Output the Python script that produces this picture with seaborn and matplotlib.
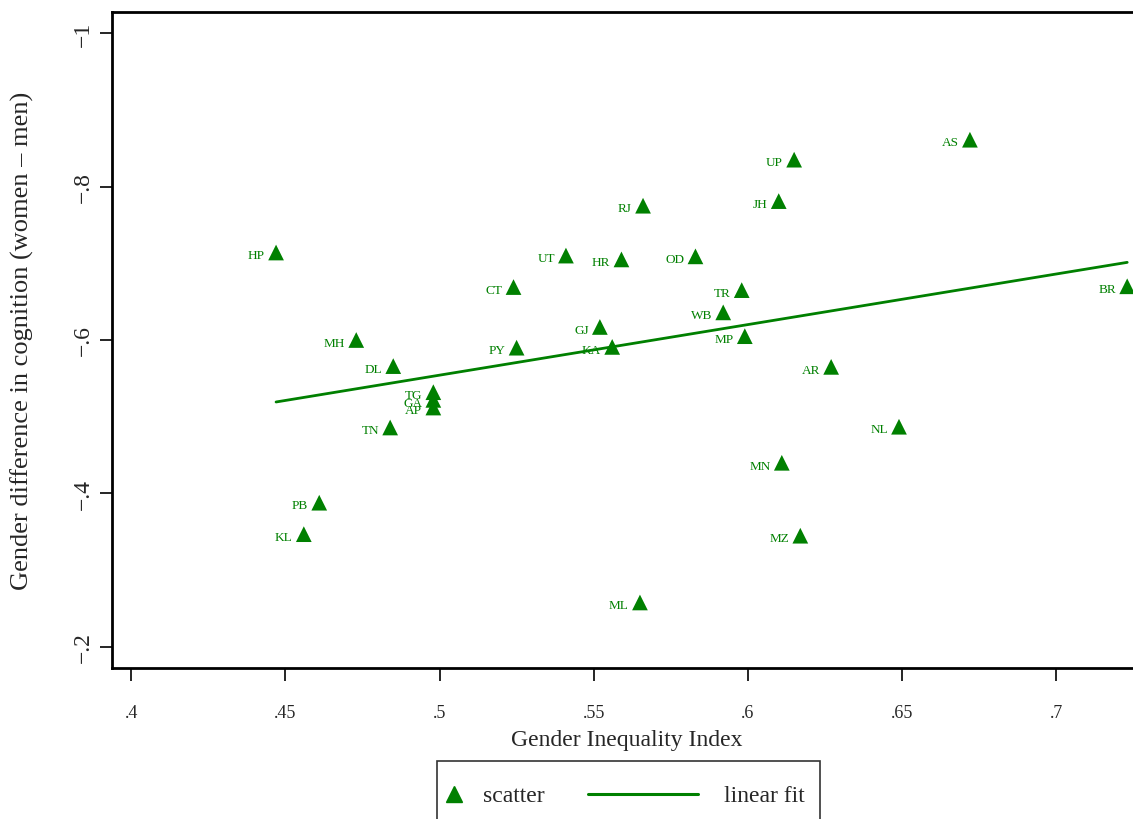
import numpy as np
import pandas as pd
import matplotlib
matplotlib.use("Agg")
import matplotlib.pyplot as plt
import seaborn as sns
from matplotlib.lines import Line2D
from matplotlib.legend_handler import HandlerBase

# state codes, Gender Inequality Index, gender gap in cognition
states = ["HP", "AS", "UP", "RJ", "JH", "UT", "HR", "OD", "CT", "TR",
          "BR", "GJ", "WB", "MP", "MH", "PY", "KA", "DL", "AR", "TG",
          "GA", "AP", "TN", "NL", "MN", "PB", "KL", "MZ", "ML"]
gii = [0.447, 0.672, 0.615, 0.566, 0.610, 0.541, 0.559, 0.583, 0.524, 0.598,
       0.723, 0.552, 0.592, 0.599, 0.473, 0.525, 0.556, 0.485, 0.627, 0.498,
       0.498, 0.498, 0.484, 0.649, 0.611, 0.461, 0.456, 0.617, 0.565]
gap = [-0.714, -0.861, -0.835, -0.775, -0.781, -0.710, -0.705, -0.709, -0.669, -0.665,
       -0.670, -0.617, -0.636, -0.605, -0.600, -0.590, -0.591, -0.566, -0.565, -0.532,
       -0.522, -0.512, -0.486, -0.487, -0.440, -0.388, -0.347, -0.345, -0.258]

x_ticks = [0.4, 0.45, 0.5, 0.55, 0.6, 0.65, 0.7]
x_tick_labels = [".4", ".45", ".5", ".55", ".6", ".65", ".7"]
y_ticks = [-1.0, -0.8, -0.6, -0.4, -0.2]
y_tick_labels = ["\u22121", "\u2212.8", "\u2212.6", "\u2212.4", "\u2212.2"]

df = pd.DataFrame({"state": states, "gii": gii, "gap": gap})

sns.set_style("white")
plt.rcParams["font.family"] = ["Liberation Serif", "DejaVu Serif"]

green = "#008000"


# Stata-like legend keys: marker sits at the left of its slot,
# the fit line reaches back into the column gap
class KeyHandler(HandlerBase):
    def __init__(self, kind):
        super().__init__()
        self.kind = kind

    def create_artists(self, legend, orig_handle, xdescent, ydescent,
                       width, height, fontsize, trans):
        y = height / 2 - ydescent
        if self.kind == "marker":
            art = Line2D([-xdescent + 1], [y], marker="^", markersize=11.5,
                         color=green, linestyle="none")
        else:
            art = Line2D([-xdescent - 76, -xdescent + 3.5], [y, y],
                         color=green, linewidth=2.2)
        art.set_transform(trans)
        return [art]


fig = plt.figure(figsize=(11.33, 8.2), dpi=100)
ax = fig.add_axes([112 / 1133, 151 / 820, 1030 / 1133, 656 / 820])

# scatter + labels
sns.scatterplot(data=df, x="gii", y="gap", marker="^", s=128, color=green,
                edgecolor="none", ax=ax, zorder=3)
for _, r in df.iterrows():
    ax.annotate(r["state"], (r["gii"], r["gap"]), xytext=(-8, -2),
                textcoords="offset points", ha="right", va="center",
                fontsize=9.5, color=green)

# linear fit
sns.regplot(data=df, x="gii", y="gap", scatter=False, ci=None, truncate=True,
            color=green, line_kws={"linewidth": 2}, ax=ax)

ax.set_xlim(0.3938, 0.7278)
ax.set_ylim(-0.1726, -1.0274)
ax.set_xticks(x_ticks)
ax.set_xticklabels(x_tick_labels, fontsize=13)
ax.set_yticks(y_ticks)
ax.set_yticklabels(y_tick_labels, fontsize=17, rotation=90, va="center")
ax.tick_params(axis="both", direction="out", length=9, width=1.2,
               color="black", bottom=True, left=True)
ax.tick_params(axis="x", pad=17)
ax.tick_params(axis="y", pad=4)

ax.set_xlabel("Gender Inequality Index", fontsize=17, labelpad=6)
ax.set_ylabel("Gender difference in cognition (women \u2013 men)", fontsize=19,
              labelpad=28)

for side in ["left", "bottom", "top"]:
    ax.spines[side].set_linewidth(2)
    ax.spines[side].set_color("black")
ax.spines["right"].set_visible(False)

h_scatter = Line2D([], [], marker="^", linestyle="none", color=green)
h_fit = Line2D([], [], color=green)
leg = fig.legend([h_scatter, h_fit], ["scatter", "linear fit"], loc="upper left",
                 bbox_to_anchor=(437 / 1133, 1 - 762 / 820), ncol=2, fontsize=17,
                 frameon=True, fancybox=False, edgecolor="black",
                 handlelength=0.6, handleheight=1.9, handletextpad=0.7,
                 columnspacing=6.3, borderpad=0.65, borderaxespad=0,
                 handler_map={h_scatter: KeyHandler("marker"),
                              h_fit: KeyHandler("line")})
leg.get_frame().set_linewidth(1.2)

fig.savefig("out.png", dpi=100)
